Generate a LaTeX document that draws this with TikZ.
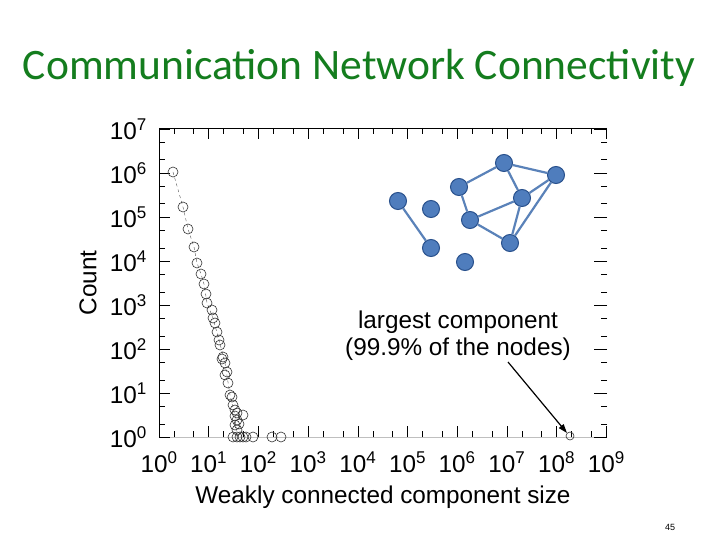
\documentclass[tikz,border=0pt]{standalone}
\usepackage{fontspec}
\setmainfont{Liberation Sans}
\newfontfamily\titlefont{Carlito}
\usetikzlibrary{arrows.meta}
\definecolor{ttl}{RGB}{20,125,30}
\definecolor{nfill}{RGB}{79,125,189}
\definecolor{nedge}{RGB}{40,80,140}
\definecolor{eline}{RGB}{90,130,185}
\newcommand{\pw}[1]{10\textsuperscript{#1}}
\tikzset{
  gnode/.style={circle,fill=nfill,draw=nedge,line width=1pt,minimum size=17pt,inner sep=0pt},
  gedge/.style={eline,line width=2.2pt},
  pt/.style={circle,draw=black!80,line width=0.6pt,minimum size=10pt,inner sep=0pt},
  lbl/.style={font=\fontsize{24.3}{27}\selectfont,inner sep=0pt},
  tk/.style={black,line width=0.6pt}
}
\begin{document}
\begin{tikzpicture}[x=1pt,y=-1pt]
\useasboundingbox (0,0) rectangle (720,540);
\fill[white] (0,0) rectangle (720,540);
\node[text=ttl,font=\titlefont\fontsize{43.5}{48}\selectfont] (title) at (359,68) {Communication Network Connectivity};
% axes frame
\draw[tk] (159,437) -- (159,128) -- (607,128);
\draw[black!25,line width=0.6pt] (159,437) -- (607,437);
% ticks
\foreach \k in {0,...,7}{
  \pgfmathsetmacro{\yy}{437-44*\k}
  \draw[tk] (159,\yy) -- (170,\yy);
  \draw[tk] (607,\yy) -- (594,\yy);
}
\foreach \k in {0,...,6}{
  \pgfmathsetmacro{\ya}{437-44*\k-13.2}
  \pgfmathsetmacro{\yb}{437-44*\k-30.8}
  \draw[tk] (159,\ya) -- (165,\ya) (159,\yb) -- (165,\yb);
  \draw[tk] (607,\ya) -- (601,\ya) (607,\yb) -- (601,\yb);
}
\foreach \k in {0,...,9}{
  \pgfmathsetmacro{\xx}{159+49.7*\k}
  \draw[tk] (\xx,437) -- (\xx,426);
  \draw[tk] (\xx,128) -- (\xx,139);
}
\foreach \k in {0,...,8}{
  \pgfmathsetmacro{\xa}{159+49.7*\k+15}
  \pgfmathsetmacro{\xb}{159+49.7*\k+34.7}
  \draw[tk] (\xa,437) -- (\xa,431) (\xb,437) -- (\xb,431);
  \draw[tk] (\xa,128) -- (\xa,134) (\xb,128) -- (\xb,134);
}
% tick labels
\foreach \k in {0,...,7}{
  \pgfmathsetmacro{\yy}{437-44*\k}
  \node[lbl,anchor=east] (yl\k) at (147,\yy) {\pw{\k}};
}
\foreach \k in {0,...,9}{
  \pgfmathsetmacro{\xx}{159+49.7*\k}
  \node[lbl] (xl\k) at (\xx,462) {\pw{\k}};
}
\node[lbl,rotate=90] (ylab) at (88,283) {Count};
\node[lbl] (xlab) at (383,497) {Weakly connected component size};
% data
\draw[black!70,dashed,line width=0.4pt] (173,172) -- (183,207) -- (188,229) -- (194,247) -- (197,263) -- (201,274) -- (204,284) -- (207,303) -- (213,318) -- (219,340) -- (225,363) -- (230,395) -- (235,416) -- (237,437);
\foreach \p [count=\i] in {(173,172),(183,207),(188,229),(194,247),(197,263),(201,274),(204,284),(206,294),(207,303),(212,310),(213,318),(215,323),(217,332),(219,340),(220,345),(223,357),(222,359),(225,363),(227,372),(225,375),(228,383),(230,395),(232,397),(233,405),(235,410),(237,413),(235,416),(243,415),(237,420),(239,424),(235,425),(237,430),(233,437),(237,437),(240,437),(243,437),(246,437),(253,437),(272,437),(281,437)}
  \node[pt] (d\i) at \p {};
\node[pt,minimum size=8pt] (big) at (570,436) {};
% annotation
\node[lbl,align=center] (ann) at (458,336) {largest component\\(99.9\% of the nodes)};
\coordinate (as) at (508,362);
\draw[-{Triangle[length=9pt,width=6pt]},line width=1.2pt] (as) -- (big.north west);
% network
\node[gnode] (A) at (398,201) {};
\node[gnode] (B) at (431,209) {};
\node[gnode] (C) at (431,248) {};
\node[gnode] (D) at (465,262) {};
\node[gnode] (E) at (459,187) {};
\node[gnode] (F) at (504,163) {};
\node[gnode] (G) at (556,175) {};
\node[gnode] (H) at (522,198) {};
\node[gnode] (I) at (470,220) {};
\node[gnode] (J) at (510,243) {};
\foreach \a/\b in {A/C,E/F,E/I,F/H,F/G,G/H,G/J,H/I,H/J,I/J}
  \draw[gedge] (\a) -- (\b);
\node[font=\fontsize{9}{10}\selectfont] (pg) at (670,527) {45};
\end{tikzpicture}
\end{document}
